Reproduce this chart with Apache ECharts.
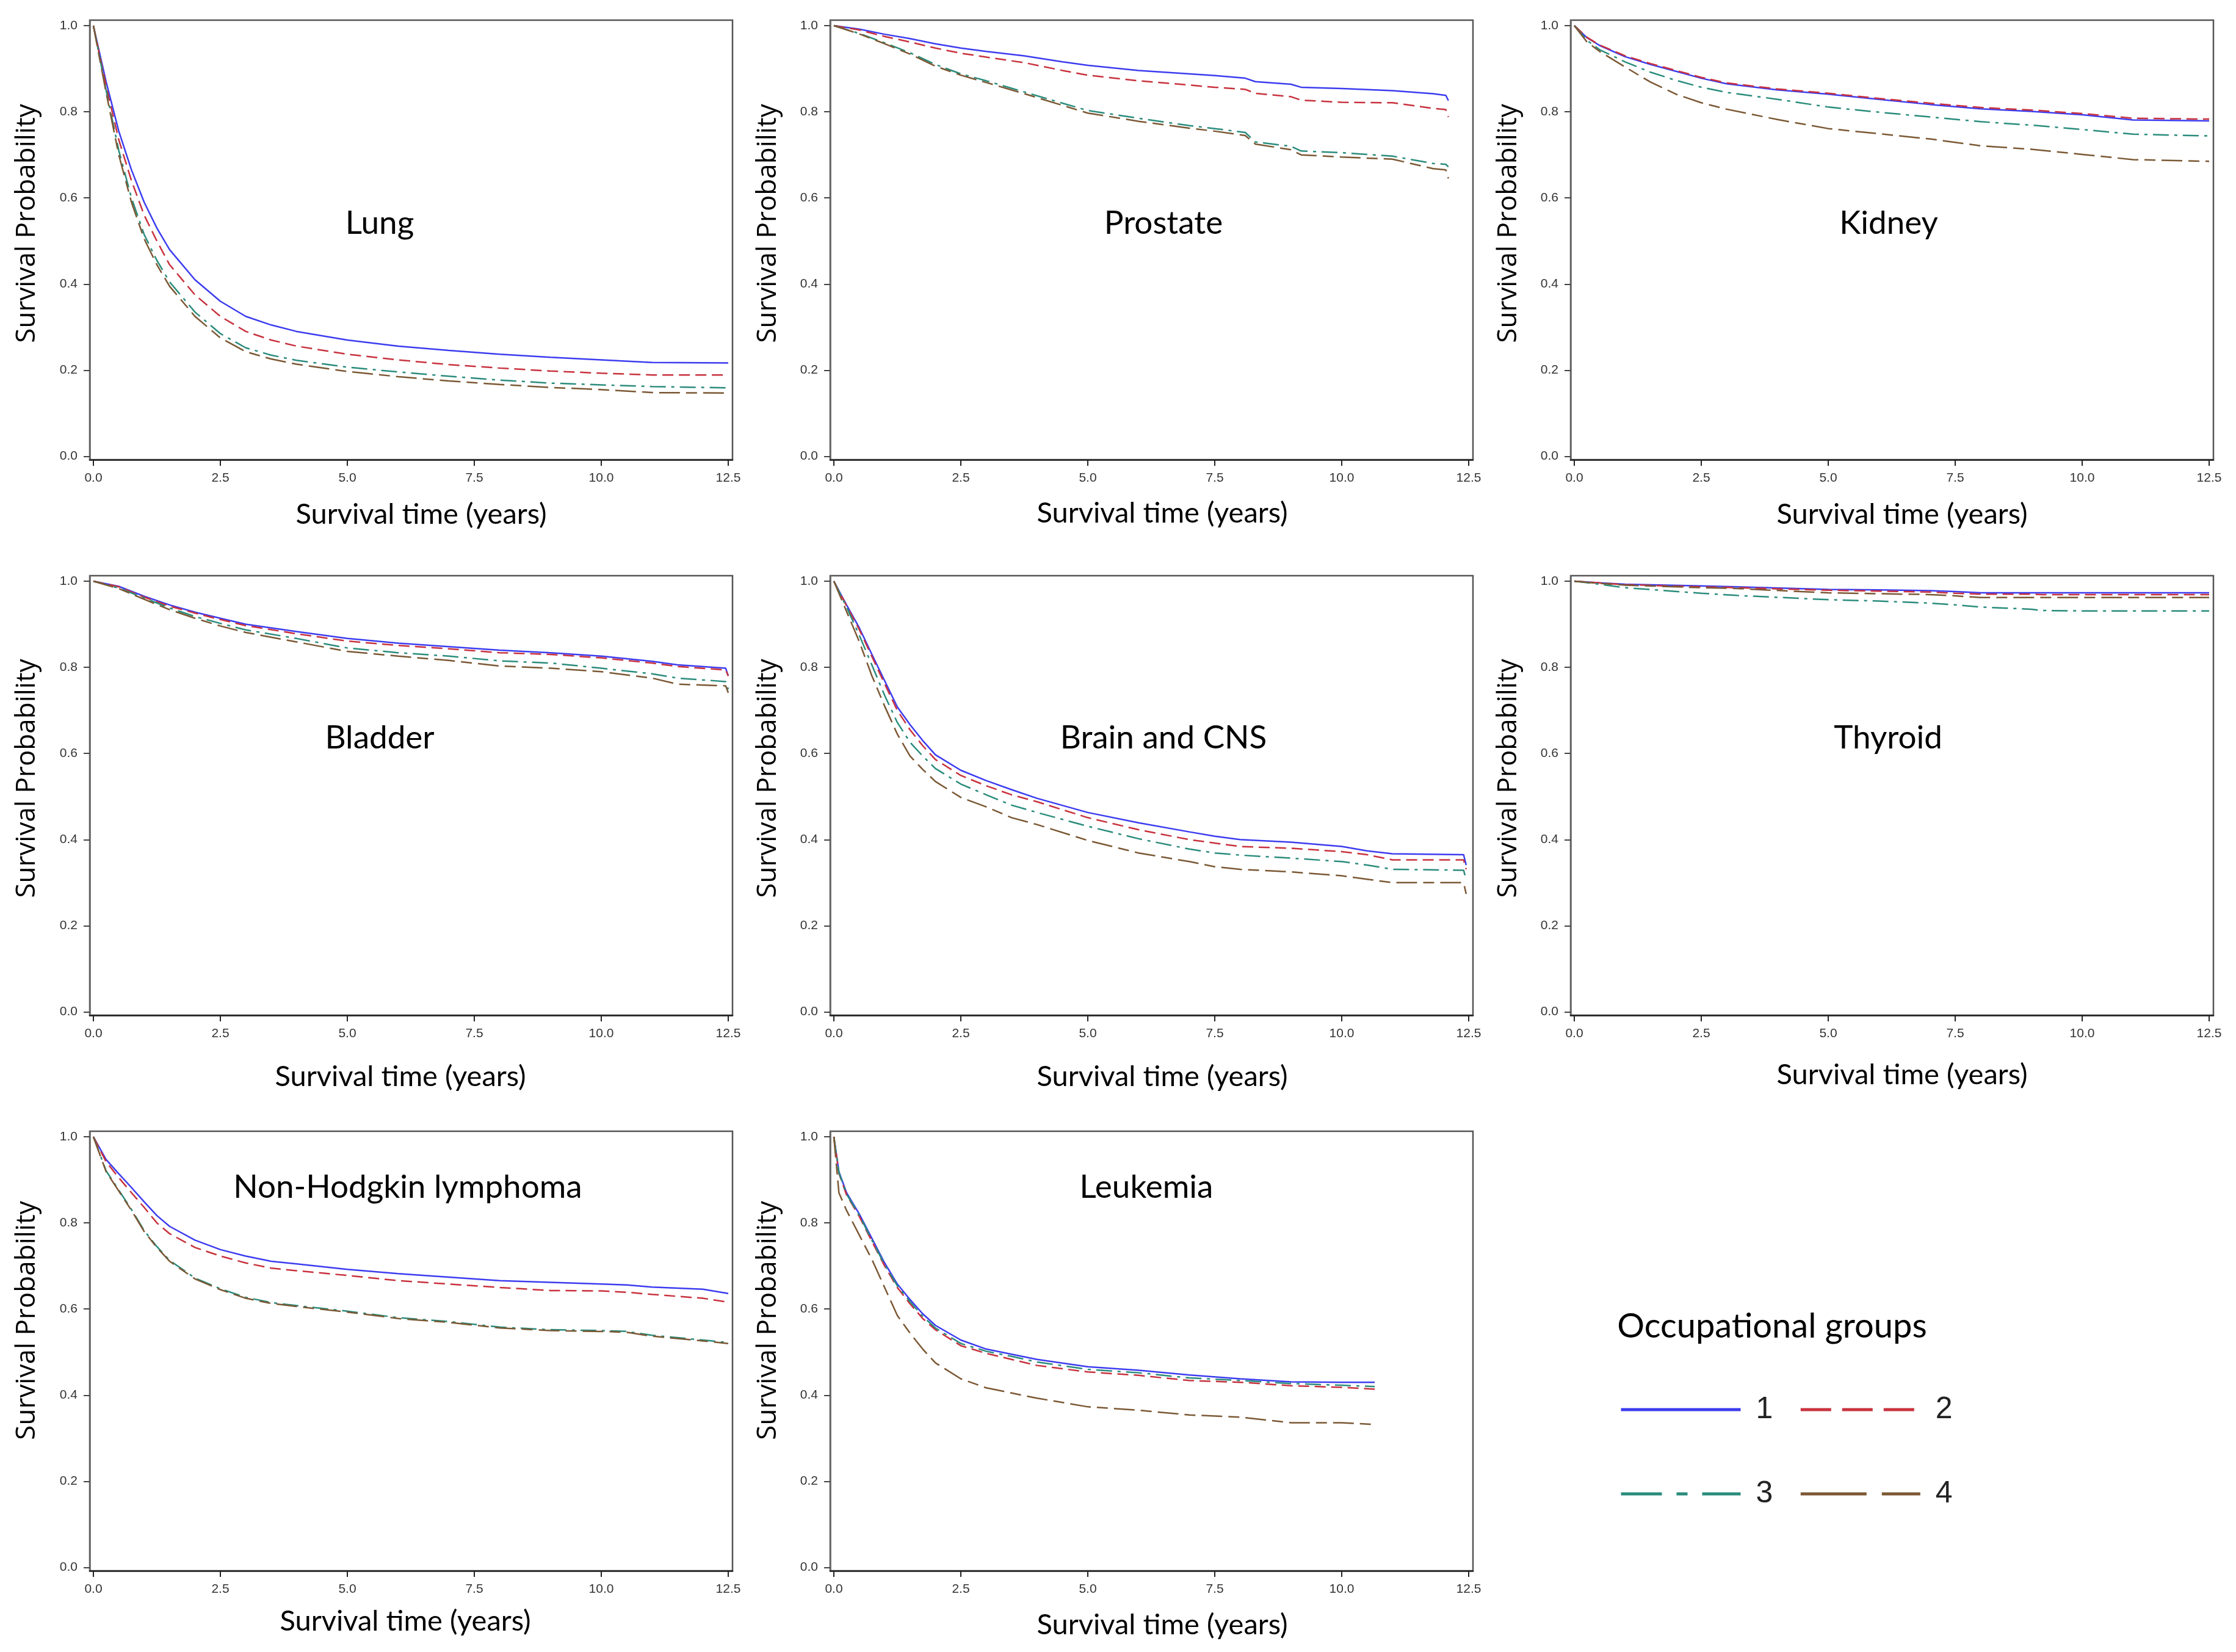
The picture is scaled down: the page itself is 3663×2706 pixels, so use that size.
<!DOCTYPE html>
<html>
<head>
<meta charset="utf-8">
<script src="https://cdn.jsdelivr.net/npm/echarts@6/dist/echarts.min.js"></script>
<style>
html,body{margin:0;padding:0;background:#fff;}
#chart{width:3663px;height:2706px;}
</style>
</head>
<body>
<div id="chart"></div>
<script>
// ---------------- DATA ----------------
const panelNames = ['Lung','Prostate','Kidney','Bladder','Brain and CNS','Thyroid','Non-Hodgkin lymphoma','Leukemia'];
const groupNames = ['1','2','3','4'];
const xTickValues = [0, 2.5, 5, 7.5, 10, 12.5];
const yTickValues = [0, 0.2, 0.4, 0.6, 0.8, 1.0];
const xAxisTitle = 'Survival time (years)';
const yAxisTitle = 'Survival Probability';
const legendTitle = 'Occupational groups';

const lungTime = [0, 0.25, 0.5, 0.75, 1, 1.25, 1.5, 2, 2.5, 3, 3.5, 4, 5, 6, 7, 8, 9, 10, 11, 12.5];
const lungG1 = [1.0, 0.87, 0.755, 0.665, 0.59, 0.53, 0.48, 0.41, 0.36, 0.325, 0.305, 0.29, 0.27, 0.256, 0.246, 0.237, 0.230, 0.224, 0.218, 0.217];
const lungG2 = [1.0, 0.86, 0.735, 0.64, 0.56, 0.50, 0.445, 0.375, 0.325, 0.29, 0.27, 0.256, 0.237, 0.224, 0.213, 0.205, 0.198, 0.193, 0.189, 0.189];
const lungG3 = [1.0, 0.85, 0.71, 0.60, 0.515, 0.455, 0.405, 0.335, 0.285, 0.252, 0.235, 0.223, 0.207, 0.196, 0.186, 0.177, 0.170, 0.166, 0.162, 0.159];
const lungG4 = [1.0, 0.845, 0.70, 0.59, 0.505, 0.445, 0.395, 0.325, 0.275, 0.243, 0.226, 0.214, 0.197, 0.185, 0.175, 0.167, 0.160, 0.155, 0.148, 0.147];

const prostateTime = [0, 0.5, 1, 1.5, 2, 2.5, 3, 3.75, 4.5, 5, 6, 7, 7.5, 8.1, 8.3, 9, 9.2, 10, 11, 11.8, 12.05, 12.1];
const prostateG1 = [1.0, 0.992, 0.98, 0.97, 0.958, 0.948, 0.94, 0.93, 0.916, 0.908, 0.896, 0.888, 0.884, 0.878, 0.870, 0.864, 0.857, 0.854, 0.849, 0.842, 0.838, 0.826];
const prostateG2 = [1.0, 0.99, 0.975, 0.962, 0.948, 0.936, 0.927, 0.914, 0.896, 0.885, 0.872, 0.862, 0.857, 0.852, 0.843, 0.835, 0.827, 0.822, 0.821, 0.808, 0.805, 0.788];
const prostateG3 = [1.0, 0.982, 0.96, 0.937, 0.91, 0.888, 0.872, 0.846, 0.82, 0.803, 0.785, 0.768, 0.761, 0.752, 0.730, 0.72, 0.709, 0.705, 0.697, 0.68, 0.678, 0.672];
const prostateG4 = [1.0, 0.981, 0.958, 0.934, 0.906, 0.885, 0.868, 0.842, 0.815, 0.797, 0.778, 0.762, 0.755, 0.745, 0.725, 0.712, 0.70, 0.695, 0.69, 0.668, 0.665, 0.645];

const kidneyTime = [0, 0.25, 0.5, 1, 1.5, 2, 2.5, 3, 4, 5, 6, 7, 8, 9, 10, 11, 12.5];
const kidneyG1 = [1.0, 0.972, 0.954, 0.928, 0.91, 0.894, 0.878, 0.865, 0.851, 0.841, 0.829, 0.817, 0.807, 0.801, 0.793, 0.781, 0.779];
const kidneyG2 = [1.0, 0.973, 0.955, 0.93, 0.912, 0.896, 0.88, 0.867, 0.853, 0.843, 0.831, 0.82, 0.81, 0.804, 0.796, 0.785, 0.783];
const kidneyG3 = [1.0, 0.966, 0.944, 0.916, 0.892, 0.873, 0.857, 0.845, 0.829, 0.811, 0.799, 0.788, 0.777, 0.769, 0.759, 0.748, 0.744];
const kidneyG4 = [1.0, 0.962, 0.94, 0.904, 0.869, 0.841, 0.821, 0.806, 0.782, 0.761, 0.749, 0.737, 0.721, 0.713, 0.701, 0.689, 0.685];

const bladderTime = [0, 0.5, 1, 1.5, 2, 2.5, 3, 4, 5, 6, 7, 8, 9, 10, 11, 11.5, 12.45, 12.5];
const bladderG1 = [1.0, 0.988, 0.965, 0.945, 0.928, 0.914, 0.90, 0.883, 0.867, 0.856, 0.848, 0.840, 0.834, 0.826, 0.814, 0.806, 0.798, 0.78];
const bladderG2 = [1.0, 0.987, 0.963, 0.942, 0.926, 0.911, 0.897, 0.878, 0.861, 0.851, 0.843, 0.834, 0.830, 0.822, 0.81, 0.802, 0.794, 0.78];
const bladderG3 = [1.0, 0.984, 0.961, 0.938, 0.918, 0.902, 0.887, 0.867, 0.845, 0.834, 0.826, 0.815, 0.81, 0.798, 0.785, 0.775, 0.767, 0.749];
const bladderG4 = [1.0, 0.983, 0.958, 0.934, 0.914, 0.896, 0.881, 0.859, 0.837, 0.826, 0.816, 0.803, 0.798, 0.79, 0.775, 0.761, 0.757, 0.741];

const brainTime = [0, 0.25, 0.5, 0.75, 1, 1.25, 1.5, 1.75, 2, 2.5, 3, 3.5, 4, 5, 6, 7, 7.5, 8, 9, 10, 10.5, 11, 12.4, 12.45];
const brainG1 = [1.0, 0.945, 0.892, 0.830, 0.769, 0.708, 0.667, 0.630, 0.597, 0.561, 0.537, 0.516, 0.496, 0.463, 0.439, 0.418, 0.408, 0.40, 0.394, 0.384, 0.374, 0.367, 0.365, 0.341];
const brainG2 = [1.0, 0.943, 0.888, 0.825, 0.762, 0.70, 0.655, 0.618, 0.586, 0.549, 0.525, 0.504, 0.488, 0.451, 0.423, 0.40, 0.392, 0.384, 0.38, 0.372, 0.365, 0.353, 0.353, 0.331];
const brainG3 = [1.0, 0.94, 0.875, 0.805, 0.735, 0.672, 0.626, 0.594, 0.565, 0.529, 0.504, 0.48, 0.463, 0.431, 0.402, 0.378, 0.369, 0.364, 0.357, 0.349, 0.341, 0.331, 0.329, 0.307];
const brainG4 = [1.0, 0.93, 0.86, 0.78, 0.71, 0.645, 0.594, 0.563, 0.535, 0.498, 0.476, 0.451, 0.435, 0.398, 0.369, 0.349, 0.337, 0.331, 0.325, 0.316, 0.308, 0.30, 0.30, 0.274];

const thyroidTime = [0, 0.5, 1, 2.5, 3.2, 5, 6, 7, 7.5, 8, 9, 9.2, 10, 12.5];
const thyroidG1 = [1.0, 0.996, 0.993, 0.989, 0.987, 0.981, 0.980, 0.978, 0.976, 0.973, 0.973, 0.973, 0.973, 0.973];
const thyroidG2 = [1.0, 0.996, 0.992, 0.987, 0.985, 0.979, 0.977, 0.975, 0.972, 0.970, 0.970, 0.969, 0.969, 0.969];
const thyroidG3 = [1.0, 0.993, 0.985, 0.972, 0.967, 0.957, 0.954, 0.949, 0.945, 0.940, 0.935, 0.932, 0.931, 0.931];
const thyroidG4 = [1.0, 0.995, 0.991, 0.985, 0.983, 0.973, 0.971, 0.969, 0.966, 0.962, 0.962, 0.962, 0.962, 0.962];

const nhlTime = [0, 0.25, 0.5, 0.75, 1, 1.25, 1.5, 2, 2.5, 3, 3.5, 4, 5, 6, 7, 8, 9, 10, 10.5, 11, 12, 12.5];
const nhlG1 = [1.0, 0.947, 0.914, 0.882, 0.849, 0.817, 0.792, 0.760, 0.738, 0.723, 0.711, 0.705, 0.692, 0.682, 0.674, 0.666, 0.662, 0.658, 0.656, 0.651, 0.646, 0.636];
const nhlG2 = [1.0, 0.942, 0.905, 0.87, 0.836, 0.80, 0.775, 0.743, 0.723, 0.707, 0.695, 0.689, 0.678, 0.666, 0.658, 0.650, 0.643, 0.642, 0.639, 0.634, 0.625, 0.616];
const nhlG3 = [1.0, 0.921, 0.876, 0.831, 0.782, 0.745, 0.713, 0.672, 0.647, 0.627, 0.615, 0.608, 0.595, 0.58, 0.571, 0.558, 0.552, 0.55, 0.548, 0.539, 0.528, 0.522];
const nhlG4 = [1.0, 0.919, 0.874, 0.829, 0.78, 0.743, 0.711, 0.67, 0.645, 0.625, 0.613, 0.606, 0.593, 0.578, 0.569, 0.556, 0.550, 0.548, 0.546, 0.537, 0.526, 0.520];

const leukTime = [0, 0.1, 0.25, 0.5, 0.75, 1, 1.25, 1.5, 1.75, 2, 2.5, 3, 3.5, 4, 5, 6, 7, 8, 9, 10, 10.65];
const leukG1 = [1.0, 0.919, 0.870, 0.821, 0.764, 0.707, 0.658, 0.622, 0.589, 0.562, 0.528, 0.507, 0.495, 0.483, 0.466, 0.458, 0.447, 0.438, 0.431, 0.43, 0.43];
const leukG2 = [1.0, 0.915, 0.865, 0.815, 0.757, 0.70, 0.65, 0.612, 0.578, 0.552, 0.515, 0.497, 0.483, 0.469, 0.454, 0.446, 0.434, 0.43, 0.422, 0.418, 0.414];
const leukG3 = [1.0, 0.917, 0.867, 0.818, 0.76, 0.703, 0.654, 0.617, 0.583, 0.556, 0.52, 0.502, 0.49, 0.477, 0.46, 0.452, 0.44, 0.434, 0.427, 0.423, 0.42];
const leukG4 = [1.0, 0.870, 0.829, 0.772, 0.715, 0.65, 0.585, 0.544, 0.507, 0.475, 0.438, 0.417, 0.405, 0.393, 0.373, 0.365, 0.354, 0.349, 0.336, 0.336, 0.332];

// ---------------- BUILD ----------------
const panels = [
  [lungTime, [lungG1, lungG2, lungG3, lungG4]],
  [prostateTime, [prostateG1, prostateG2, prostateG3, prostateG4]],
  [kidneyTime, [kidneyG1, kidneyG2, kidneyG3, kidneyG4]],
  [bladderTime, [bladderG1, bladderG2, bladderG3, bladderG4]],
  [brainTime, [brainG1, brainG2, brainG3, brainG4]],
  [thyroidTime, [thyroidG1, thyroidG2, thyroidG3, thyroidG4]],
  [nhlTime, [nhlG1, nhlG2, nhlG3, nhlG4]],
  [leukTime, [leukG1, leukG2, leukG3, leukG4]]
];

// layout (pixels)
const colLeft = [147, 1360, 2573];
const rowTop = [33, 943, 1853];
const gridW = 1053, gridH = 720;
const xMin = -0.072, xMax = 12.584;
const yMin = -0.0078, yMax = 1.0128;
const panelTitlePos = [[622,366],[1906,366],[3094,366],[622,1209],[1906,1209],[3093,1209],[668,1945],[1878,1945]];
const xTitlePos = [[690,843],[1904,841],[3116,843],[656,1764],[1904,1764],[3116,1761],[664,2656],[1904,2662]];
const yTitleX = [44, 1258, 2471];
const yTitleY = [366, 1275, 2163];

const colors = ['#3c3cf0', '#c8323e', '#2a8c7c', '#7b5834'];
const dashes = ['solid', [18, 9], [26, 9, 5, 9], [34, 10, 18, 10]];
const legendDashes = ['solid', [50, 18], [67, 24, 18, 24], [108, 25, 65, 25]];

const grids = [], xAxes = [], yAxes = [], series = [], graphics = [];
const tickFont = 'Liberation Sans';

panels.forEach((p, i) => {
  const col = i % 3, row = Math.floor(i / 3);
  grids.push({left: colLeft[col], top: rowTop[row], width: gridW, height: gridH,
    show: true, borderColor: '#555', borderWidth: 2.5, containLabel: false});
  xAxes.push({gridIndex: i, type: 'value', min: xMin, max: xMax,
    axisLine: {onZero: false, lineStyle: {color: '#222', width: 2.5}},
    axisTick: {show: true, customValues: xTickValues, length: 10, inside: false, lineStyle: {color: '#222', width: 2}},
    axisLabel: {customValues: xTickValues, formatter: v => v.toFixed(1), margin: 20,
      fontSize: 21, fontFamily: tickFont, color: '#333'},
    splitLine: {show: false}});
  yAxes.push({gridIndex: i, type: 'value', min: yMin, max: yMax,
    axisLine: {show: true, onZero: false, lineStyle: {color: '#666', width: 2.5}},
    axisTick: {show: true, customValues: yTickValues, length: 10, inside: false, lineStyle: {color: '#444', width: 2}},
    axisLabel: {customValues: yTickValues, formatter: v => v.toFixed(1), margin: 20,
      fontSize: 21, fontFamily: tickFont, color: '#333'},
    splitLine: {show: false}});
  const t = p[0];
  p[1].forEach((vals, g) => {
    series.push({
      name: groupNames[g], type: 'line', xAxisIndex: i, yAxisIndex: i,
      data: t.map((tt, k) => [tt, vals[k]]),
      symbol: 'none', showSymbol: false, silent: true, smooth: false,
      lineStyle: {color: colors[g], width: 2.5, type: dashes[g]},
      itemStyle: {color: colors[g]},
      z: 2 + g
    });
  });
  graphics.push({type: 'text', x: panelTitlePos[i][0], y: panelTitlePos[i][1], silent: true,
    style: {text: panelNames[i], fill: '#000', fontSize: 53, fontFamily: 'Lato',
      align: 'center', verticalAlign: 'middle', textAlign: 'center', textVerticalAlign: 'middle'}});
  graphics.push({type: 'text', x: xTitlePos[i][0], y: xTitlePos[i][1], silent: true,
    style: {text: xAxisTitle, fill: '#000', fontSize: 47, fontFamily: 'Lato',
      align: 'center', verticalAlign: 'middle', textAlign: 'center', textVerticalAlign: 'middle'}});
  graphics.push({type: 'text', x: yTitleX[col], y: yTitleY[row], rotation: Math.PI / 2, silent: true,
    style: {text: yAxisTitle, fill: '#000', fontSize: 44, fontFamily: 'Open Sans',
      align: 'center', verticalAlign: 'middle', textAlign: 'center', textVerticalAlign: 'middle'}});
});

graphics.push({type: 'text', x: 2903, y: 2173, silent: true,
  style: {text: legendTitle, fill: '#000', fontSize: 56, fontFamily: 'Lato',
    align: 'center', verticalAlign: 'middle', textAlign: 'center', textVerticalAlign: 'middle'}});

function legendItems(idx) {
  return idx.map(g => ({name: groupNames[g], lineStyle: {type: legendDashes[g], width: 5, color: colors[g]}}));
}
const legendBase = {
  orient: 'horizontal', left: 2653, padding: 0, itemWidth: 196, itemHeight: 12, itemGap: 43,
  selectedMode: false,
  itemStyle: {opacity: 0, borderWidth: 0},
  lineStyle: {width: 5},
  textStyle: {fontSize: 50, fontFamily: tickFont, color: '#222', lineHeight: 60, padding: [0, 0, 0, 20]}
};

const option = {
  animation: false,
  backgroundColor: '#fff',
  grid: grids,
  xAxis: xAxes,
  yAxis: yAxes,
  series: series,
  legend: [
    Object.assign({}, legendBase, {top: 2279, data: legendItems([0, 1])}),
    Object.assign({}, legendBase, {top: 2417, data: legendItems([2, 3])})
  ],
  graphic: graphics
};

const chart = echarts.init(document.getElementById('chart'), null, {renderer: 'canvas'});
chart.setOption(option);
</script>
</body>
</html>
